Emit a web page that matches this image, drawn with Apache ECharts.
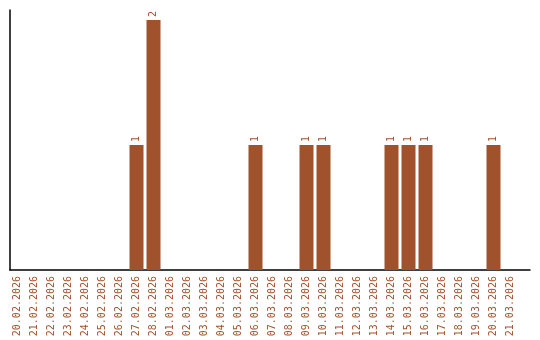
<!DOCTYPE html>
<html><head><meta charset="utf-8">
<script src="https://cdn.jsdelivr.net/npm/echarts@6/dist/echarts.min.js"></script>
<style>html,body{margin:0;padding:0;background:#fff}#c{width:540px;height:340px}</style>
</head><body><div id="c"></div>
<script>
const categories = ["20.02.2026","21.02.2026","22.02.2026","23.02.2026","24.02.2026","25.02.2026","26.02.2026","27.02.2026","28.02.2026","01.03.2026","02.03.2026","03.03.2026","04.03.2026","05.03.2026","06.03.2026","07.03.2026","08.03.2026","09.03.2026","10.03.2026","11.03.2026","12.03.2026","13.03.2026","14.03.2026","15.03.2026","16.03.2026","17.03.2026","18.03.2026","19.03.2026","20.03.2026","21.03.2026"];
const counts = [0,0,0,0,0,0,0,1,2,0,0,0,0,0,1,0,0,1,1,0,0,0,1,1,1,0,0,0,1,0];
const color = '#A0522D';
const font = 'DejaVu Sans Mono';
const chart = echarts.init(document.getElementById('c'));
chart.setOption({
  animation: false,
  grid: [
    {left: 10, right: 10, top: 10, bottom: 70},
    {left: 9, width: 510, top: 10, bottom: 70}
  ],
  xAxis: [
    {type: 'category', gridIndex: 0, data: [], axisLine: {lineStyle: {color: '#000', width: 1.5}}, axisTick: {show: false}, axisLabel: {show: false}},
    {type: 'category', gridIndex: 1, data: categories, axisLine: {show: false}, axisTick: {show: false},
     axisLabel: {rotate: 90, interval: 0, color: color, fontFamily: font, fontSize: 10, margin: 6}}
  ],
  yAxis: [
    {type: 'value', gridIndex: 0, min: 0, max: 2.08, axisLine: {show: true, lineStyle: {color: '#000', width: 1.5}}, axisTick: {show: false}, axisLabel: {show: false}, splitLine: {show: false}},
    {type: 'value', gridIndex: 1, min: 0, max: 2.08, axisLine: {show: false}, axisTick: {show: false}, axisLabel: {show: false}, splitLine: {show: false}}
  ],
  series: [{
    type: 'bar', xAxisIndex: 1, yAxisIndex: 1, data: counts.map(v => v === 0 ? null : v),
    barWidth: 14, itemStyle: {color: color},
    label: {show: true, position: 'top', rotate: 90, align: 'left', verticalAlign: 'middle', distance: 3,
      color: color, fontFamily: font, fontSize: 10}
  }]
});
</script></body></html>
